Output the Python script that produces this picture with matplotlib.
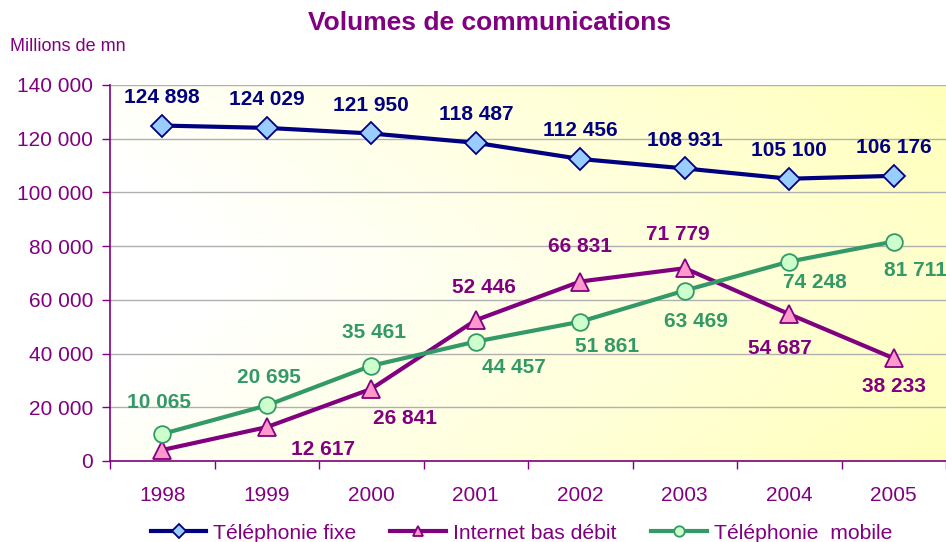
import numpy as np
import matplotlib.pyplot as plt

# valeurs (millions de minutes)
annees = ['1998', '1999', '2000', '2001', '2002', '2003', '2004', '2005']
fixe = [124898, 124029, 121950, 118487, 112456, 108931, 105100, 106176]
internet = [4100, 12617, 26841, 52446, 66831, 71779, 54687, 38233]
mobile = [10065, 20695, 35461, 44457, 51861, 63469, 74248, 81711]
yticks = [0, 20000, 40000, 60000, 80000, 100000, 120000, 140000]

# decalage des etiquettes (pixels), None = pas d'etiquette
off_fixe = [(0, 28)] * 8
off_internet = [None, (56, -22), (34, -30), (8, 33), (0, 35), (-7, 34), (-9, -34), (0, -28)]
off_mobile = [(-3, 31), (2, 28), (3, 33), (38, -26), (27, -25), (11, -31), (26, -21), (22, -29)]

violet = '#800080'
bleu = '#000080'
vert = '#339966'

plt.rcParams['font.family'] = ['Liberation Sans', 'DejaVu Sans']


def fmt(v):
    return '{:,}'.format(v).replace(',', ' ')


fig = plt.figure(figsize=(9.46, 5.42), dpi=100)
ax = fig.add_axes([110 / 946, 1 - 461 / 542, 1 - 110 / 946, (461 - 85) / 542])

# fond degrade blanc -> jaune pale
gx, gy = np.meshgrid(np.linspace(0, 1, 200), np.linspace(0, 1, 100))
t = np.clip(gx * 0.9 + np.abs(gy - 0.5) * 0.5 - 0.15, 0, 1)
img = np.ones((100, 200, 3))
img[..., 2] = 1 - 0.27 * t
ax.imshow(img, extent=[0, 1, 0, 1], transform=ax.transAxes, aspect='auto', zorder=0, origin='lower')

x = np.arange(len(annees))
ax.plot(x, fixe, color=bleu, lw=3, marker='D', ms=11, mfc='#99CCFF', mec=bleu, mew=1.3,
        label='Téléphonie fixe', zorder=4)
ax.plot(x, internet, color=violet, lw=3, marker='^', ms=13, mfc='#FF99CC', mec=violet, mew=1.3,
        label='Internet bas débit', zorder=4)
ax.plot(x, mobile, color=vert, lw=3, marker='o', ms=12, mfc='#CCFFCC', mec=vert, mew=1.3,
        label='Téléphonie  mobile', zorder=4)

for vals, offs, col in [(fixe, off_fixe, bleu), (internet, off_internet, violet), (mobile, off_mobile, vert)]:
    for i, v in enumerate(vals):
        if offs[i] is None:
            continue
        ax.annotate(fmt(v), (x[i], v), xytext=offs[i], textcoords='offset pixels',
                    ha='center', va='center', fontsize=15, fontweight='bold', color=col,
                    annotation_clip=False, zorder=5)

ax.set_xlim(-0.5, 7.5)
ax.set_ylim(0, 140000)
ax.set_yticks(yticks)
ax.set_yticklabels([fmt(v) for v in yticks], fontsize=15, color=violet)
ax.set_xticks(x)
ax.set_xticklabels(annees, fontsize=15, color=violet)
ax.set_xticks(np.arange(-0.5, 8, 1), minor=True)
ax.tick_params(axis='x', which='major', length=0, pad=18)
ax.tick_params(axis='x', which='minor', length=6, color=violet, width=1)
ax.tick_params(axis='y', length=6, color=violet, width=1, pad=6)
ax.grid(axis='y', color='#B0B0B0', lw=1)
ax.set_axisbelow(True)
for s in ['top', 'right']:
    ax.spines[s].set_visible(False)
for s in ['left', 'bottom']:
    ax.spines[s].set_color(violet)
    ax.spines[s].set_linewidth(1.2)

fig.text(0.517, 0.957, 'Volumes de communications', ha='center', va='center',
         fontsize=19, fontweight='bold', color=violet)
fig.text(0.011, 0.915, 'Millions de mn', ha='left', va='center', fontsize=13, color=violet)

leg = fig.legend(loc='center', bbox_to_anchor=(0.551, 0.016), ncol=3, frameon=False,
                 fontsize=15.2, handlelength=2.65, columnspacing=1.6, handletextpad=0.33,
                 borderpad=0)
for txt in leg.get_texts():
    txt.set_color(violet)
for h in leg.legend_handles:
    h.set_markersize(7.5)

fig.savefig('out.png', dpi=100)
